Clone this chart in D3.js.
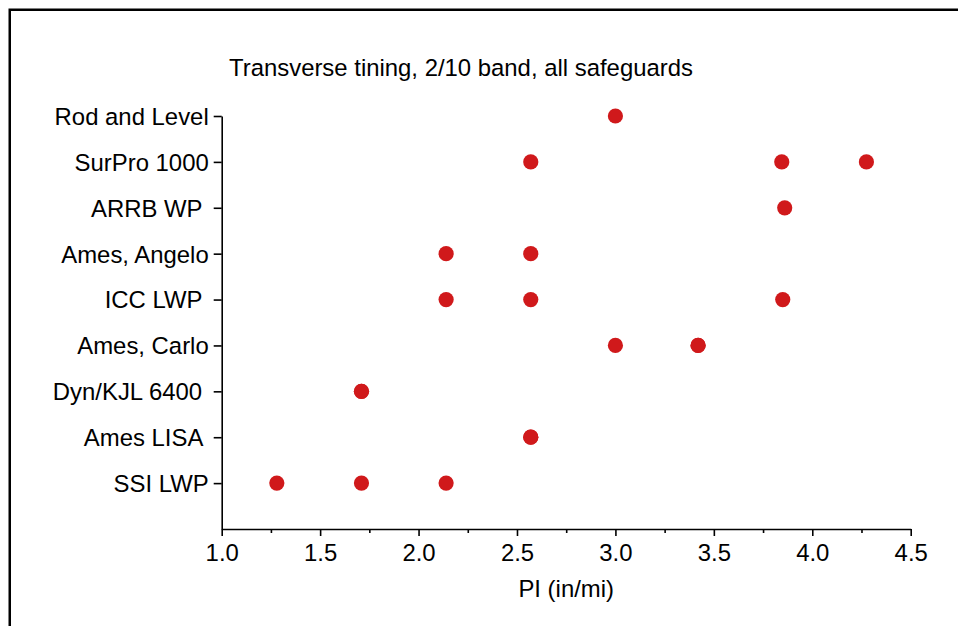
<!DOCTYPE html>
<html>
<head>
<meta charset="utf-8">
<script src="https://cdn.jsdelivr.net/npm/d3@7"></script>
<style>
  html, body { margin: 0; padding: 0; background: #fff; }
  svg { display: block; font-family: "Liberation Sans", Arial, sans-serif; }
  text { white-space: pre; }
</style>
</head>
<body>
<svg id="chart" width="958" height="626"></svg>
<script>
// ---- data ----
const categories = ["Rod and Level", "SurPro 1000", "ARRB WP ", "Ames, Angelo", "ICC LWP ",
                    "Ames, Carlo", "Dyn/KJL 6400 ", "Ames LISA ", "SSI LWP"];
const piValues = [
  [3.0],
  [2.57, 3.845, 4.275],
  [3.86],
  [2.14, 2.57],
  [2.14, 2.57, 3.85],
  [3.0, 3.42, 3.42],
  [1.71, 1.71],
  [2.57, 2.57],
  [1.28, 1.71, 2.14]
];
const xTicks = [1.0, 1.5, 2.0, 2.5, 3.0, 3.5, 4.0, 4.5];
const xMinorTicks = [1.25, 1.75, 2.25, 2.75, 3.25, 3.75, 4.25];
const titleText = "Transverse tining, 2/10 band, all safeguards";
const xTitle = "PI (in/mi)";

// ---- layout ----
const svg = d3.select("#chart");
const fontSize = 23.9;
const plot = { left: 221.7, right: 910.7, top: 116, bottom: 529 };

const x = d3.scaleLinear().domain([1.0, 4.5]).range([plot.left, plot.right]);
const y = d3.scaleLinear().domain([0, categories.length]).range([plot.top, plot.bottom]);

// frame (only top and left visible in the viewport)
svg.append("rect")
  .attr("x", 9.75).attr("y", 9.75)
  .attr("width", 2000).attr("height", 2000)
  .attr("fill", "none").attr("stroke", "#000").attr("stroke-width", 2.5);

// title
svg.append("text")
  .attr("x", 229).attr("y", 75.5)
  .attr("font-size", fontSize).attr("fill", "#000")
  .text(titleText);

// x axis (major)
const xAxis = svg.append("g")
  .attr("transform", `translate(0,${plot.bottom})`)
  .call(d3.axisBottom(x).tickValues(xTicks).tickFormat(d3.format(".1f"))
        .tickSizeInner(7).tickSizeOuter(0).tickPadding(8));
xAxis.select(".domain").attr("stroke", "#000").attr("stroke-width", 1.6);
xAxis.selectAll(".tick line").attr("stroke", "#000").attr("stroke-width", 1.6);
xAxis.selectAll(".tick text").attr("font-size", fontSize).attr("fill", "#000")
  .attr("font-family", "Liberation Sans, Arial, sans-serif").attr("dy", "0.71em");

// x minor ticks
svg.append("g")
  .attr("transform", `translate(0,${plot.bottom})`)
  .call(d3.axisBottom(x).tickValues(xMinorTicks).tickFormat("").tickSizeInner(4).tickSizeOuter(0))
  .call(g => g.select(".domain").remove())
  .call(g => g.selectAll(".tick line").attr("stroke", "#000").attr("stroke-width", 1.6));

// x axis title
svg.append("text")
  .attr("x", (plot.left + plot.right) / 2).attr("y", 596.5)
  .attr("text-anchor", "middle")
  .attr("font-size", fontSize).attr("fill", "#000")
  .text(xTitle);

// y axis
const yAxis = svg.append("g")
  .attr("transform", `translate(${plot.left},0)`)
  .call(d3.axisLeft(y).tickValues(d3.range(categories.length))
        .tickFormat(i => categories[i]).tickSizeInner(8).tickSizeOuter(0).tickPadding(5));
yAxis.select(".domain").attr("stroke", "#000").attr("stroke-width", 1.6);
yAxis.selectAll(".tick line").attr("stroke", "#000").attr("stroke-width", 1.6);
yAxis.selectAll(".tick text").attr("font-size", fontSize).attr("fill", "#000")
  .attr("font-family", "Liberation Sans, Arial, sans-serif").attr("dy", "0.35em");

// points
const points = [];
piValues.forEach((vals, i) => vals.forEach(v => points.push({ i, v })));
svg.append("g").selectAll("circle")
  .data(points)
  .join("circle")
  .attr("cx", d => x(d.v))
  .attr("cy", d => y(d.i))
  .attr("r", 7.6)
  .attr("fill", "#d0191b");
</script>
</body>
</html>
